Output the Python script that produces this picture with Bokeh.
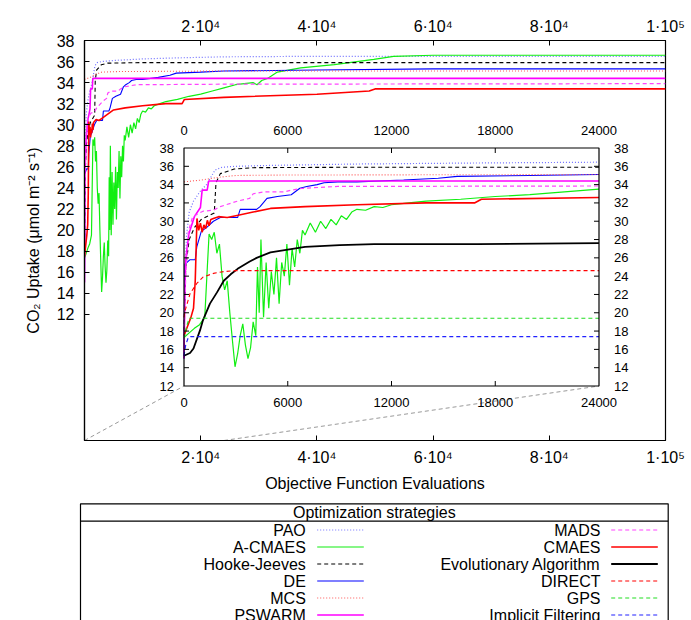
import numpy as np
from bokeh.plotting import figure
from bokeh.models import Range1d, LinearAxis, FixedTicker
from bokeh.embed import file_html
from bokeh.resources import INLINE
from bokeh.core.properties import value

FONT = "Liberation Sans"

# ---------------- data ----------------
pao_x = [0, 50, 150, 300, 550, 950, 1300, 1550, 1800, 2200, 3000, 5000, 10000, 16000, 24000, 40000, 100000]
pao_y = [17.5, 24.0, 28.5, 31.0, 32.2, 33.3, 34.0, 34.8, 35.6, 35.9, 36.0, 36.1, 36.25, 36.35, 36.45, 36.5, 36.5]

acm_x = [0, 300, 600, 900, 1200, 1350, 1450, 1600, 1750, 1900, 2050, 2200, 2350, 2500, 2650, 2800, 2950,
         3100, 3250, 3400, 3550, 3700, 3850, 4000, 4150, 4250, 4350, 4450, 4600, 4750, 4900, 5050, 5200,
         5350, 5500, 5650, 5800, 5950, 6100, 6250, 6400, 6550, 6700, 6850, 7000, 7300, 7600, 7900, 8200,
         8500, 8800, 9100, 9400, 9700, 10000, 10500, 11000, 11500, 12000, 13000, 14000, 16000, 18000,
         20000, 22000, 24000, 26000, 29000, 29700, 30500, 31500, 33200, 37200, 43000, 49800, 53200,
         60000, 100000]
acm_y = [17.3, 17.8, 18.3, 18.7, 19.5, 25.0, 28.6, 28.0, 28.8, 26.5, 27.5, 24.0, 22.5, 23.5, 20.0, 17.0, 14.1,
         15.5, 17.5, 18.8, 16.5, 15.0, 16.2, 19.0, 17.5, 25.0, 20.0, 28.0, 19.5, 25.5, 20.5, 24.5, 22.0,
         26.0, 21.0, 25.5, 24.0, 27.5, 23.0, 27.0, 25.0, 28.0, 26.5, 29.0, 28.5, 29.8, 28.8, 30.0, 29.2,
         30.2, 29.6, 30.6, 30.2, 31.0, 31.3, 31.2, 31.6, 31.5, 31.8, 32.0, 32.2, 32.4, 32.7,
         32.9, 33.2, 33.5, 33.8, 34.0, 33.8, 34.2, 34.4, 35.0, 35.4, 35.7, 36.2, 36.5,
         36.6, 36.6]

hj_x = [0, 100, 300, 600, 1000, 1750, 1850, 2100, 2900, 4000, 10000, 24000, 100000]
hj_y = [18.0, 25.0, 28.0, 29.3, 30.2, 30.9, 34.2, 35.2, 35.7, 35.85, 35.9, 35.9, 35.9]

de_x = [0, 50, 350, 650, 740, 1000, 1300, 1700, 2100, 3100, 3250, 4200, 4400, 4800, 5400, 6200, 6700,
        7100, 7700, 8100, 8900, 10000, 12700, 14700, 15800, 20000, 24000, 40000, 60000, 100000]
de_y = [15.0, 25.3, 25.8, 25.8, 27.2, 28.9, 29.3, 30.0, 30.4, 30.4, 31.3, 31.3, 31.6, 32.5, 32.7, 32.9, 33.6,
        33.8, 34.0, 34.2, 34.3, 34.3, 34.5, 34.7, 34.9, 35.0, 35.1, 35.2, 35.3, 35.3]

mcs_x = [0, 1000, 2000, 3000, 6000, 24000, 100000]
mcs_y = [34.3, 34.5, 34.8, 35.0, 35.05, 35.1, 35.1]

psw_x = [0, 50, 90, 280, 600, 950, 1050, 1340, 1430, 24000, 100000]
psw_y = [15.0, 22.0, 25.7, 28.6, 30.5, 31.5, 33.4, 33.4, 34.4, 34.4, 34.4]

mads_x = [0, 100, 250, 500, 1100, 1700, 2100, 3100, 3800, 4000, 4600, 5800, 6200, 6900, 8900, 24000, 100000]
mads_y = [17.0, 24.0, 28.9, 30.5, 31.1, 31.2, 31.6, 32.2, 32.5, 33.0, 33.2, 33.2, 33.4, 33.6, 33.8, 33.85, 33.9]

cma_x = [0, 200, 400, 550, 650, 750, 850, 950, 1050, 1150, 1250, 1350, 1450, 1550, 1700, 2000, 2500,
         3000, 4000, 5000, 7000, 10000, 14000, 16800, 17200, 24000, 40000, 49000, 50000, 100000]
cma_y = [17.5, 18.5, 19.5, 20.5, 23.5, 30.3, 29.0, 29.8, 28.8, 29.6, 29.2, 30.1, 29.5, 30.2, 30.3, 30.5, 30.4,
         30.6, 31.0, 31.4, 31.6, 31.8, 32.0, 32.0, 32.4, 32.6, 32.9, 33.2, 33.4, 33.4]

ea_x = [0, 350, 550, 930, 1100, 1500, 1900, 2300, 2700, 3100, 3800, 4200, 5000, 6000, 7000, 9000, 11000, 17000, 24000]
ea_y = [15.3, 15.6, 16.1, 18.1, 19.2, 21.0, 22.2, 23.5, 24.2, 24.8, 25.6, 26.0, 26.6, 26.9, 27.2, 27.4, 27.5, 27.5, 27.6]

dir_x = [0, 60, 350, 740, 1100, 1700, 2300, 3000, 24000]
dir_y = [19.5, 20.2, 22.1, 23.2, 23.9, 24.3, 24.5, 24.6, 24.6]

gps_x = [0, 150, 300, 24000]
gps_y = [17.2, 18.5, 19.4, 19.4]

imf_x = [0, 100, 250, 400, 24000]
imf_y = [15.3, 16.5, 17.3, 17.4, 17.4]

series_names = ["PAO", "A-CMAES", "Hooke-Jeeves", "DE", "MCS", "PSWARM",
                "MADS", "CMAES", "Evolutionary Algorithm", "DIRECT", "GPS", "Implicit Filtering"]
series_x = [pao_x, acm_x, hj_x, de_x, mcs_x, psw_x, mads_x, cma_x, ea_x, dir_x, gps_x, imf_x]
series_y = [pao_y, acm_y, hj_y, de_y, mcs_y, psw_y, mads_y, cma_y, ea_y, dir_y, gps_y, imf_y]
in_main = [True, True, True, True, True, True, True, True, False, False, False, False]

# styles
colors = ["#6f6fff", "#11ee11", "black", "#0000ff", "#ff5555", "#ff00ff",
          "#ff44ff", "#ff0000", "black", "#ff0000", "#22dd22", "#2222ff"]
dashes = ["1 2", "solid", "4 3", "solid", "1 2", "solid",
          "4 3", "solid", "solid", "4 3", "4 3", "4 3"]
widths = [1.2, 1.2, 1.1, 1.1, 1.1, 1.6, 1.2, 1.6, 1.8, 1.1, 1.2, 1.2]

main_xticks = [20000, 40000, 60000, 80000, 100000]
main_xlabels = ["2·10⁴", "4·10⁴", "6·10⁴", "8·10⁴", "1·10⁵"]
main_yticks = [12, 14, 16, 18, 20, 22, 24, 26, 28, 30, 32, 34, 36, 38]
inset_xticks = [0, 6000, 12000, 18000, 24000]
inset_yticks = [12, 14, 16, 18, 20, 22, 24, 26, 28, 30, 32, 34, 36, 38]

X_MAX = 100000
Y_MAX = 38
INSET_XMAX = 24000
INSET_YMIN, INSET_YMAX = 12, 38

# ---------------- layout constants (page pixels) ----------------
W = 691
MAIN_H = 498
PAGE_H = 620
M_LEFT, M_RIGHT, M_TOP, M_BOTTOM = 84, 665, 40, 440
IN_LEFT, IN_RIGHT, IN_TOP, IN_BOTTOM = 183.5, 598.5, 147.5, 385.5

p = figure(width=W, height=MAIN_H, x_range=Range1d(0, X_MAX), y_range=Range1d(0, Y_MAX),
           output_backend="svg", toolbar_location=None,
           min_border_left=M_LEFT, min_border_right=W - M_RIGHT,
           min_border_top=M_TOP, min_border_bottom=MAIN_H - M_BOTTOM)
p.grid.visible = False
p.outline_line_color = "black"
p.outline_line_width = 1.2
p.background_fill_color = "white"
p.border_fill_color = "white"

bottom_axis = p.below[0]
left_axis = p.left[0]
top_axis = LinearAxis()
p.add_layout(top_axis, "above")

for ax in [bottom_axis, top_axis]:
    ax.ticker = FixedTicker(ticks=main_xticks)
    ax.major_label_overrides = {t: l for t, l in zip(main_xticks, main_xlabels)}
for ax in [bottom_axis, top_axis, left_axis]:
    ax.major_tick_in = 5
    ax.major_tick_out = 0
    ax.minor_tick_line_color = None
    ax.axis_line_color = "black"
    ax.axis_line_width = 1.2
    ax.major_tick_line_width = 1
    ax.major_label_text_font = FONT
    ax.major_label_text_font_size = "16px"
    ax.major_label_text_color = "black"
    ax.axis_label_text_font = FONT
    ax.axis_label_text_font_size = "16px"
    ax.axis_label_text_font_style = "normal"
    ax.axis_label_text_color = "black"
left_axis.ticker = FixedTicker(ticks=main_yticks)
left_axis.major_label_standoff = 10
left_axis.axis_label = "CO₂ Uptake (μmol m⁻² s⁻¹)"
left_axis.axis_label_standoff = 12
bottom_axis.major_label_standoff = 8
bottom_axis.axis_label = "Objective Function Evaluations"
bottom_axis.axis_label_standoff = 6
top_axis.major_label_standoff = 6

# main curves
for i, name in enumerate(series_names):
    if in_main[i]:
        p.line(series_x[i], series_y[i], line_color=colors[i], line_dash=dashes[i], line_width=widths[i])

# inset position in main data units
def px2x(px):
    return (px - M_LEFT) / (M_RIGHT - M_LEFT) * X_MAX

def py2y(py):
    return (M_BOTTOM - py) / (M_BOTTOM - M_TOP) * Y_MAX

ix0, ix1 = px2x(IN_LEFT), px2x(IN_RIGHT)
iy0, iy1 = py2y(IN_BOTTOM), py2y(IN_TOP)

# zoom guide lines
p.segment(x0=[0, INSET_XMAX], y0=[0, 0], x1=[ix0, ix1], y1=[iy0, iy0],
          line_color="#999999", line_dash="4 3", line_width=1)

ins = p.subplot(x_source=Range1d(0, INSET_XMAX), y_source=Range1d(INSET_YMIN, INSET_YMAX),
                x_target=Range1d(ix0, ix1), y_target=Range1d(iy0, iy1))
ins.quad(left=[0], right=[INSET_XMAX], bottom=[INSET_YMIN], top=[INSET_YMAX],
         fill_color="white", line_color=None)

for i, name in enumerate(series_names):
    xs = np.array(series_x[i], dtype=float)
    ys = np.array(series_y[i], dtype=float)
    m = xs <= INSET_XMAX
    ins.line(xs[m], ys[m], line_color=colors[i], line_dash=dashes[i], line_width=widths[i])

ins.quad(left=[0], right=[INSET_XMAX], bottom=[INSET_YMIN], top=[INSET_YMAX],
         fill_color=None, line_color="black", line_width=1.2)

# inset ticks (inward, 5 px)
tlx = 5 * INSET_XMAX / (IN_RIGHT - IN_LEFT)
tly = 5 * (INSET_YMAX - INSET_YMIN) / (IN_BOTTOM - IN_TOP)
ixt = inset_xticks[1:-1]
iyt = inset_yticks[1:-1]
ins.segment(x0=ixt, y0=[INSET_YMIN] * len(ixt), x1=ixt, y1=[INSET_YMIN + tly] * len(ixt), line_color="black")
ins.segment(x0=ixt, y0=[INSET_YMAX] * len(ixt), x1=ixt, y1=[INSET_YMAX - tly] * len(ixt), line_color="black")
ins.segment(x0=[0] * len(iyt), y0=iyt, x1=[tlx] * len(iyt), y1=iyt, line_color="black")
ins.segment(x0=[INSET_XMAX] * len(iyt), y0=iyt, x1=[INSET_XMAX - tlx] * len(iyt), y1=iyt, line_color="black")

ilab = dict(text_font=value(FONT), text_font_size="13px", text_color="black", text_baseline="middle")
xl = [str(t) for t in inset_xticks]
yl = [str(t) for t in inset_yticks]
ins.text(x=inset_xticks, y=[INSET_YMIN] * len(xl), text=xl, y_offset=16.5, text_align="center", **ilab)
ins.text(x=inset_xticks, y=[INSET_YMAX] * len(xl), text=xl, y_offset=-18, text_align="center", **ilab)
ins.text(x=[0] * len(yl), y=inset_yticks, text=yl, x_offset=-10, text_align="right", **ilab)
ins.text(x=[INSET_XMAX] * len(yl), y=inset_yticks, text=yl, x_offset=15, text_align="left", **ilab)

# ---------------- legend panel (separate root; data units = page pixels) ----------------
LEG_H = PAGE_H - MAIN_H
lg = figure(width=W, height=LEG_H, x_range=Range1d(0, W), y_range=Range1d(PAGE_H, MAIN_H),
            output_backend="svg", toolbar_location=None, x_axis_location=None, y_axis_location=None,
            min_border_left=0, min_border_right=0, min_border_top=0, min_border_bottom=0)
lg.grid.visible = False
lg.outline_line_color = None
lg.border_fill_color = "white"
lg.background_fill_color = "white"

BOX_L, BOX_R, BOX_T, TITLE_LINE = 80, 667.7, 503.3, 520.7
lg.quad(left=[BOX_L], right=[BOX_R], top=[BOX_T], bottom=[PAGE_H + 40],
        fill_color=None, line_color="black", line_width=1.2)
lg.segment(x0=[BOX_L], y0=[TITLE_LINE], x1=[BOX_R], y1=[TITLE_LINE], line_color="black", line_width=1.2)
ltxt = dict(text_font=value(FONT), text_font_size="16px", text_color="black", text_baseline="middle")
lg.text(x=[(BOX_L + BOX_R) / 2], y=[512], text=["Optimization strategies"], text_align="center", **ltxt)

ROW0, ROWH = 529.5, 17
cols = [(0, 305.3, 316.7, 363.3), (6, 600, 610.7, 657.3)]
for start, lab_r, s0, s1 in cols:
    for r in range(6):
        i = start + r
        y = ROW0 + r * ROWH
        lg.text(x=[lab_r], y=[y], text=[series_names[i]], text_align="right", **ltxt)
        lg.line([s0, s1], [y, y], line_color=colors[i], line_dash=dashes[i], line_width=widths[i])

open("out.html", "w").write(file_html([p, lg], INLINE))
